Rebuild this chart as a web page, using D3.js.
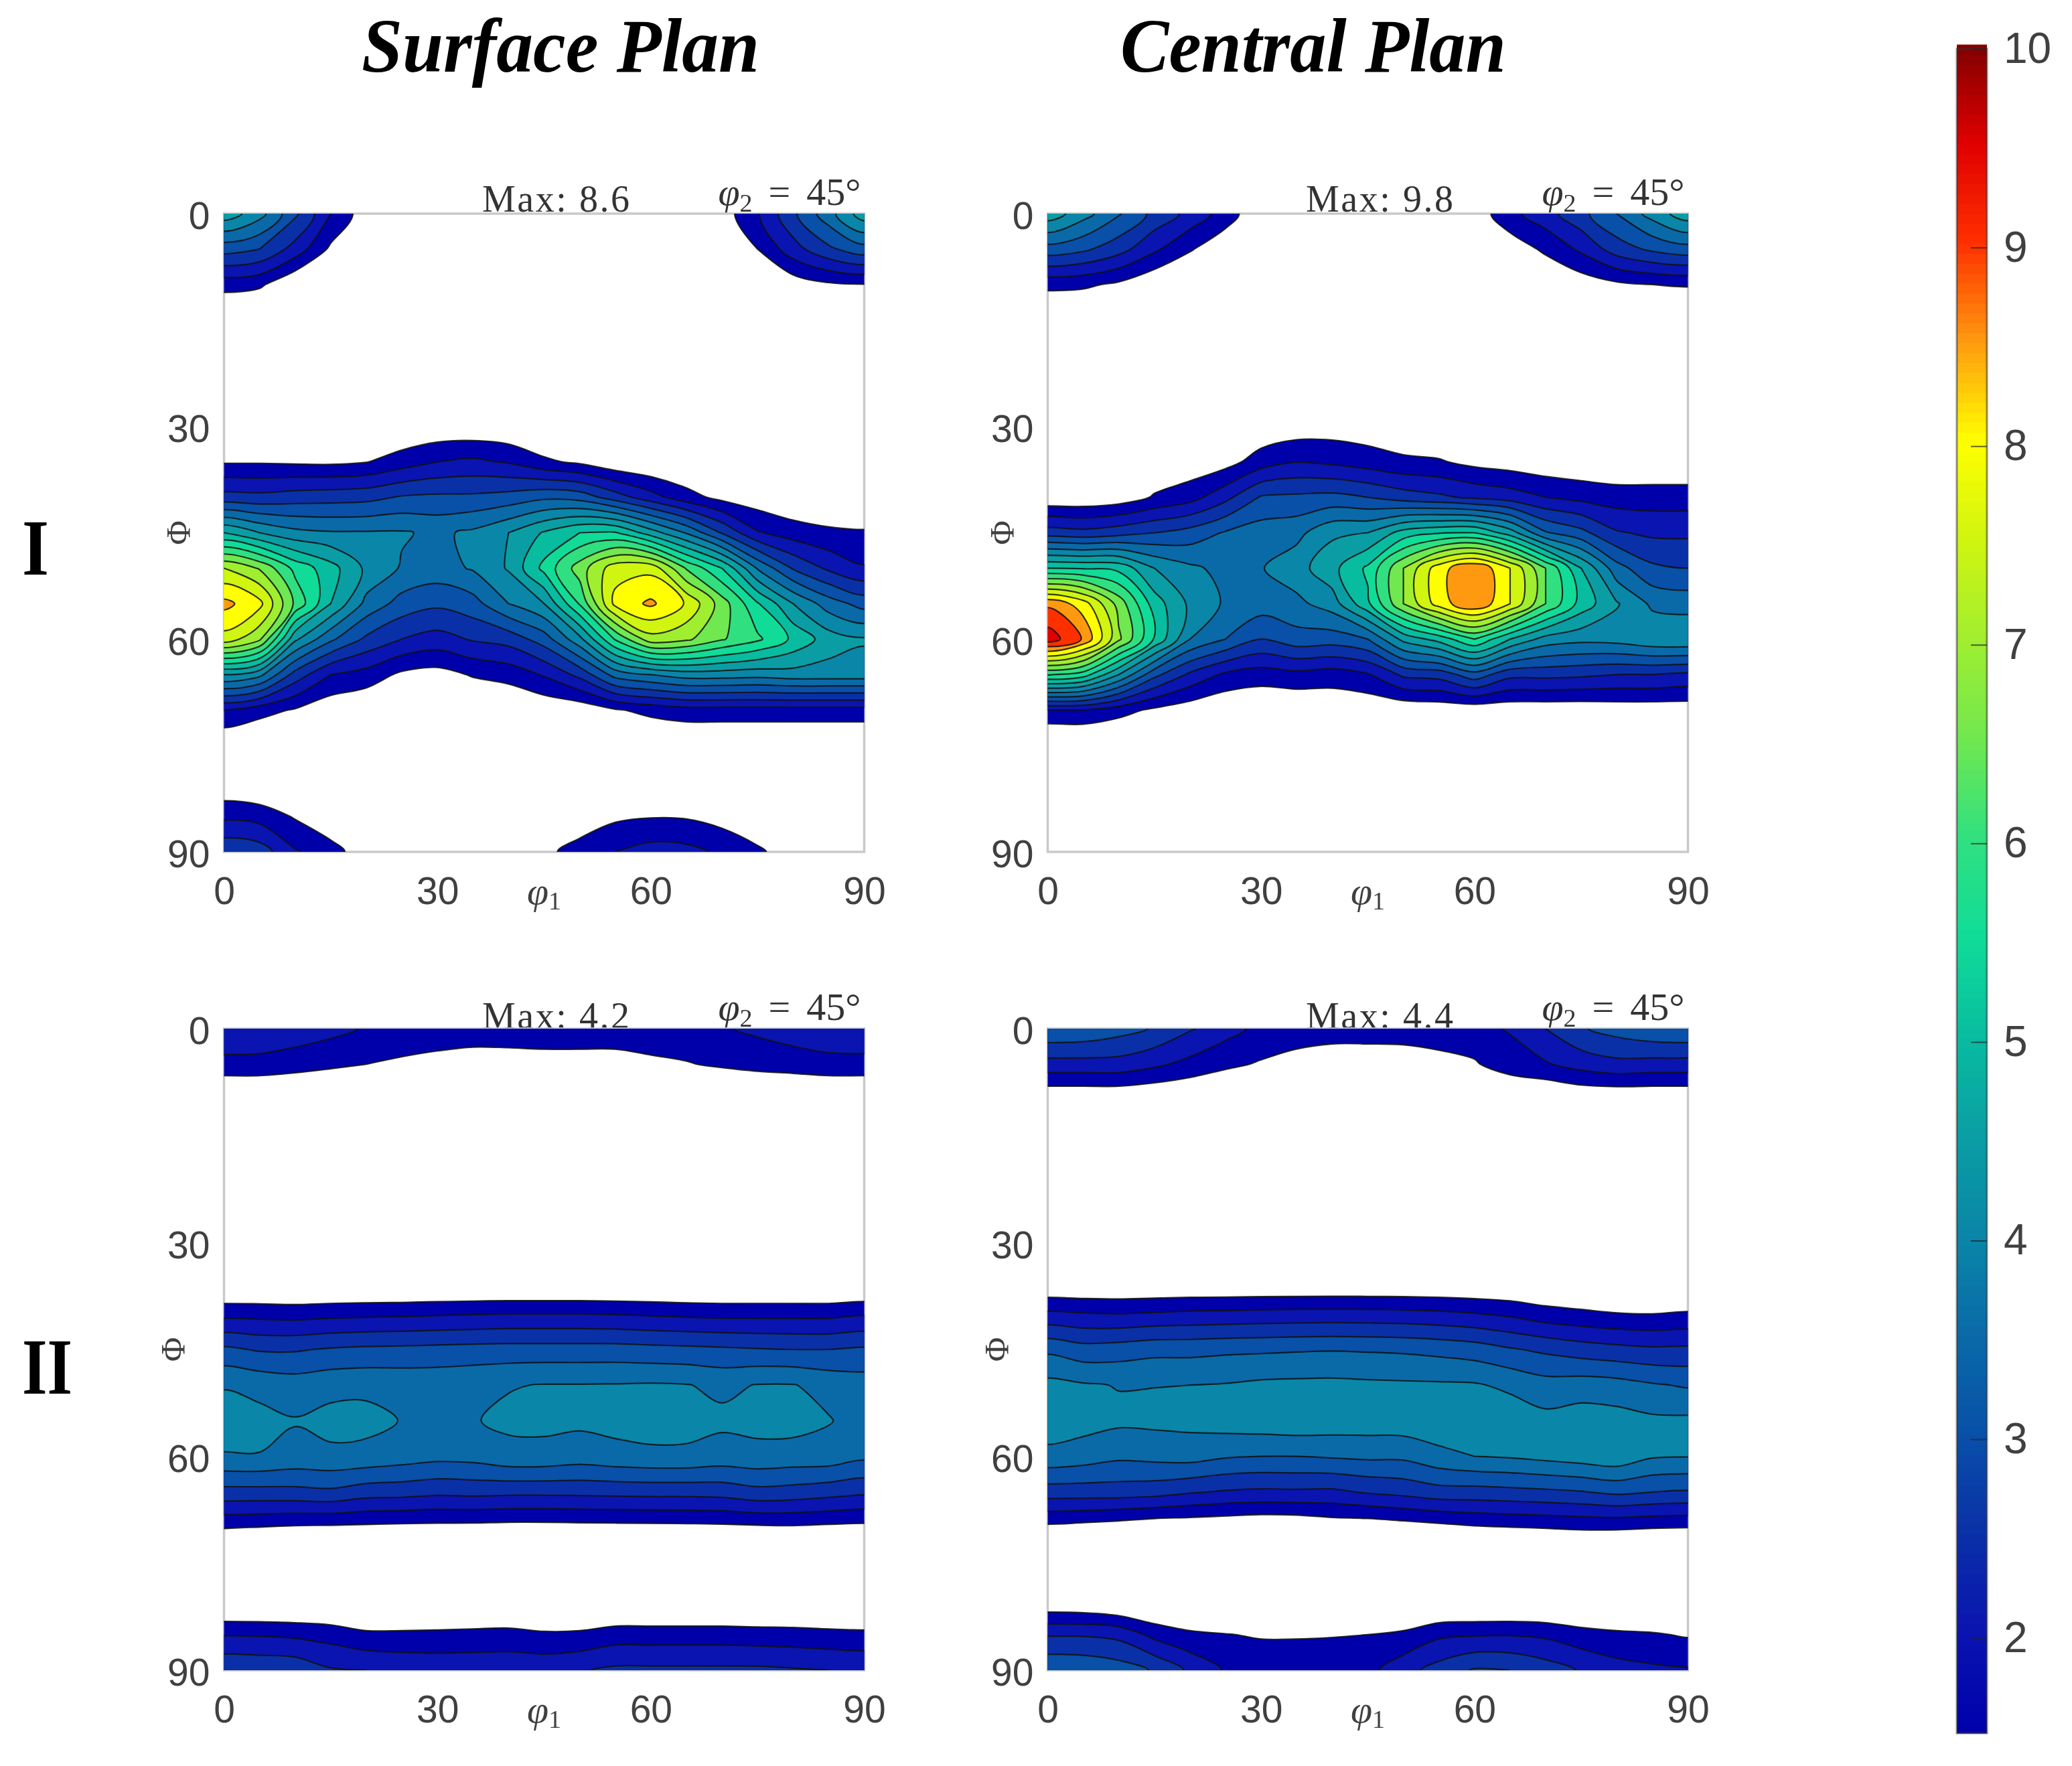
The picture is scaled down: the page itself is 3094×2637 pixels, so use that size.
<!DOCTYPE html>
<html>
<head>
<meta charset="utf-8">
<script src="https://cdn.jsdelivr.net/npm/d3@7"></script>
<style>
  body { margin: 0; background: #fff; }
  svg { display: block; filter: blur(0.7px); }
</style>
</head>
<body>
<div id="chart"></div>
<script>
// odf values, one row per Phi (0..90 step 5), one column per phi1 (0..90 step 5)
const surfacePlanI = [
  [4.8,4.2,3.1,2.0,1.2,.8,.6,.5,.5,.5,.5,.5,.5,.6,1.25,1.95,2.9,3.8,4.8],
  [3.2,3.0,2.3,1.4,.9,.6,.5,.5,.5,.5,.5,.5,.5,.5,.9,1.5,2.3,2.9,3.3],
  [1.7,1.6,1.0,.8,.6,.5,.5,.5,.5,.5,.5,.5,.5,.5,.6,.9,1.2,1.42,1.48],
  [.8,.7,.6,.6,.5,.5,.5,.5,.5,.5,.5,.5,.5,.5,.5,.6,.7,.8,.8],
  [.5,.5,.5,.5,.5,.5,.5,.5,.5,.5,.5,.5,.5,.5,.5,.5,.5,.5,.5],
  [.6,.6,.6,.6,.6,.6,.6,.6,.6,.6,.6,.6,.6,.6,.6,.6,.6,.6,.6],
  [1.0,1.0,1.0,1.0,1.0,1.0,1.1,1.1,1.05,.9,.9,.9,.9,.9,.9,.8,.8,.8,.8],
  [1.45,1.45,1.42,1.4,1.48,1.75,2.0,2.1,1.95,1.6,1.4,1.1,1.0,.95,.9,.9,.9,.9,.9],
  [2.7,2.65,2.75,2.8,2.85,3.05,3.1,3.1,3.2,3.4,3.3,2.75,2.2,1.7,1.35,1.2,1.05,1.0,1.0],
  [5.0,4.5,4.15,4.05,4.05,4.05,3.9,4.1,4.5,5.05,5.5,5.55,4.75,3.95,2.95,2.05,1.75,1.6,1.55],
  [7.5,6.95,5.85,5.2,4.4,3.95,3.8,4.05,4.55,5.65,6.75,7.8,7.85,6.45,5.5,3.95,2.95,2.4,2.05],
  [8.65,8.15,6.4,5.0,3.85,3.3,3.1,3.3,4.0,4.5,6.05,8.15,8.6,7.95,6.75,5.55,4.5,3.75,3.3],
  [7.8,7.1,4.6,3.6,2.9,2.5,2.3,2.55,2.7,3.25,4.35,6.05,7.3,7.1,6.55,6.1,5.4,4.75,4.55],
  [4.5,4.15,2.8,2.0,1.8,1.4,1.3,1.55,1.7,2.05,2.65,3.7,4.0,4.25,4.25,4.2,4.3,4.3,4.3],
  [2.0,1.7,1.45,1.15,1.0,.9,.9,.9,.95,1.1,1.15,1.45,1.65,1.8,1.8,1.8,1.8,1.8,1.8],
  [1.0,.9,.9,.9,.9,.9,.9,.9,.9,.9,.9,.9,.9,.9,.9,.9,.9,.9,.9],
  [1.0,.9,.9,.9,.9,.9,.9,.9,.9,.9,.9,.9,.9,.9,.9,.9,.9,.9,.9],
  [1.9,1.8,1.45,1.1,.9,.8,.8,.8,.8,.8,1.1,1.4,1.47,1.45,1.3,1.05,.8,.8,.8],
  [2.9,2.75,2.05,1.7,1.2,1.0,.9,.9,1.0,1.35,1.75,2.0,2.2,2.15,1.9,1.6,1.2,1.0,.9],
];

const centralPlanI = [
  [4.8,4.2,3.55,2.85,2.35,1.75,1.1,.9,.8,.8,.8,.9,1.2,1.85,2.3,2.85,3.5,4.2,4.8],
  [3.3,3.1,2.7,2.1,1.55,1.15,.9,.7,.7,.7,.7,.7,.8,1.2,1.6,2.1,2.75,3.1,3.3],
  [1.65,1.6,1.4,1.05,.9,.8,.7,.7,.7,.7,.7,.7,.7,.85,1.0,1.2,1.4,1.5,1.55],
  [.8,.8,.7,.7,.7,.7,.7,.7,.7,.7,.7,.7,.7,.7,.7,.7,.8,.8,.8],
  [.6,.6,.6,.6,.6,.6,.6,.6,.6,.6,.6,.6,.6,.6,.6,.6,.6,.6,.6],
  [.7,.7,.7,.7,.7,.7,.7,.7,.7,.7,.7,.7,.7,.7,.7,.7,.7,.7,.7],
  [.9,.9,.9,.9,1.0,1.0,1.1,1.2,1.25,1.2,1.1,1.0,.95,.9,.9,.9,.9,.9,.9],
  [.95,.95,1.0,1.1,1.15,1.3,1.75,2.0,1.9,1.75,1.6,1.55,1.35,1.25,1.15,1.1,1.05,1.05,1.05],
  [1.1,1.1,1.2,1.55,1.8,2.35,3.05,3.1,3.15,3.0,2.75,2.6,2.4,2.25,2.0,1.85,1.75,1.75,1.75],
  [2.75,2.65,2.8,3.0,3.2,3.55,3.75,3.85,4.4,4.5,5.2,5.45,5.5,4.75,3.55,3.15,2.55,2.4,2.4],
  [5.5,5.45,5.35,4.5,4.1,3.85,3.97,4.3,4.85,5.6,7.0,8.3,8.95,8.0,6.5,5.0,3.7,3.1,3.0],
  [8.9,8.25,6.8,5.25,4.4,3.93,3.75,3.87,4.25,5.4,7.0,8.25,8.95,8.0,6.5,5.3,4.55,3.9,3.8],
  [9.8,8.95,7.1,5.45,4.0,3.5,3.0,3.3,3.25,3.5,4.65,5.2,6.0,5.0,4.3,4.15,4.2,4.4,4.45],
  [6.05,5.75,4.5,3.15,2.4,1.9,1.75,1.85,1.75,1.95,2.6,2.7,3.3,2.65,2.65,2.6,2.5,2.5,2.4],
  [2.0,2.0,1.7,1.4,1.2,1.05,1.0,1.0,1.1,1.1,1.1,1.15,1.15,1.15,1.15,1.15,1.2,1.2,1.2],
  [.7,.75,.8,.8,.8,.8,.8,.8,.8,.8,.8,.8,.8,.8,.8,.8,.8,.8,.8],
  [.7,.7,.7,.7,.7,.7,.7,.7,.7,.7,.7,.7,.7,.7,.7,.7,.7,.7,.7],
  [.7,.7,.7,.7,.7,.7,.7,.7,.7,.7,.7,.7,.7,.7,.7,.7,.7,.7,.7],
  [.8,.8,.8,.8,.8,.8,.8,.8,.8,.8,.8,.8,.8,.8,.8,.8,.8,.8,.8],
];

const surfacePlanII = [
  [2.45,2.4,2.3,2.15,1.95,1.8,1.7,1.65,1.65,1.65,1.65,1.65,1.7,1.8,1.95,2.1,2.25,2.35,2.4],
  [1.83,1.83,1.72,1.6,1.5,1.42,1.38,1.36,1.37,1.39,1.39,1.39,1.43,1.47,1.57,1.67,1.74,1.83,1.83],
  [.8,.8,.8,.8,.8,.8,.8,.8,.8,.8,.8,.8,.8,.8,.8,.8,.8,.8,.8],
  [.7,.7,.7,.7,.7,.7,.7,.7,.7,.7,.7,.7,.7,.7,.7,.7,.7,.7,.7],
  [.6,.6,.6,.6,.6,.6,.6,.6,.6,.6,.6,.6,.6,.6,.6,.6,.6,.6,.6],
  [.6,.6,.6,.6,.6,.6,.6,.6,.6,.6,.6,.6,.6,.6,.6,.6,.6,.6,.6],
  [.6,.6,.6,.6,.6,.6,.6,.6,.6,.6,.6,.6,.6,.6,.6,.6,.6,.6,.6],
  [.65,.65,.65,.65,.65,.65,.65,.65,.65,.65,.65,.65,.65,.65,.65,.65,.65,.65,.65],
  [1.85,1.83,1.8,1.85,1.88,1.9,1.94,1.97,2.0,2.0,2.0,1.97,1.93,1.88,1.85,1.85,1.85,1.85,1.95],
  [3.1,2.95,2.95,3.05,3.1,3.12,3.15,3.18,3.2,3.2,3.2,3.2,3.15,3.12,3.08,3.03,3.0,3.0,3.07],
  [3.97,3.85,3.75,3.85,3.88,3.85,3.85,3.9,3.97,4.02,4.02,4.03,4.05,4.02,3.9,4.02,4.02,3.85,3.75],
  [4.2,4.15,4.03,4.15,4.15,3.98,3.9,3.97,4.1,4.12,4.1,4.15,4.2,4.18,4.1,4.15,4.18,4.03,3.8],
  [3.97,3.98,3.85,3.9,3.85,3.75,3.65,3.68,3.85,3.85,3.75,3.85,3.9,3.9,3.8,3.85,3.8,3.8,3.6],
  [2.83,2.83,2.85,2.9,2.73,2.7,2.62,2.65,2.62,2.62,2.63,2.65,2.67,2.67,2.7,2.85,2.8,2.7,2.6],
  [1.52,1.48,1.42,1.4,1.38,1.35,1.34,1.33,1.3,1.3,1.32,1.33,1.34,1.35,1.37,1.4,1.42,1.38,1.35],
  [.7,.7,.7,.7,.7,.7,.7,.7,.7,.7,.7,.7,.7,.7,.7,.7,.7,.7,.7],
  [.7,.7,.7,.7,.7,.7,.7,.7,.7,.7,.7,.7,.7,.7,.7,.7,.7,.7,.7],
  [1.97,1.95,1.9,1.8,1.6,1.6,1.62,1.65,1.68,1.58,1.6,1.75,1.75,1.75,1.75,1.72,1.7,1.65,1.62],
  [2.95,2.9,2.85,2.55,2.5,2.4,2.35,2.35,2.35,2.35,2.45,2.6,2.6,2.6,2.6,2.6,2.55,2.5,2.45],
];

const centralPlanII = [
  [3.45,3.4,3.2,2.95,2.55,2.2,1.85,1.7,1.65,1.65,1.65,1.7,1.8,2.05,2.5,2.95,3.2,3.4,3.45],
  [2.3,2.3,2.3,2.1,1.85,1.6,1.45,1.35,1.3,1.3,1.32,1.37,1.45,1.75,1.95,2.2,2.35,2.3,2.3],
  [1.0,1.0,1.0,.95,.9,.9,.8,.8,.8,.8,.8,.8,.8,.9,.9,1.0,1.0,1.0,1.0],
  [.7,.7,.7,.7,.7,.7,.7,.7,.7,.7,.7,.7,.7,.7,.7,.7,.7,.7,.7],
  [.6,.6,.6,.6,.6,.6,.6,.6,.6,.6,.6,.6,.6,.6,.6,.6,.6,.6,.6],
  [.6,.6,.6,.6,.6,.6,.6,.6,.6,.6,.6,.6,.6,.6,.6,.6,.6,.6,.6],
  [.6,.6,.6,.6,.6,.6,.6,.6,.6,.6,.6,.6,.6,.6,.6,.6,.6,.6,.6],
  [.8,.8,.8,.8,.8,.8,.8,.8,.8,.8,.8,.8,.8,.8,.8,.8,.8,.8,.8],
  [2.1,2.03,2.0,2.05,2.1,2.12,2.15,2.17,2.18,2.17,2.15,2.1,2.02,1.9,1.7,1.6,1.52,1.5,1.55],
  [3.4,3.2,3.25,3.35,3.35,3.4,3.42,3.45,3.47,3.45,3.42,3.35,3.25,3.05,2.9,2.75,2.65,2.58,2.6],
  [4.15,4.05,3.98,3.99,4.0,4.03,4.1,4.12,4.13,4.1,4.08,4.07,4.05,3.9,3.7,3.75,3.7,3.55,3.45],
  [4.3,4.2,4.1,4.12,4.15,4.25,4.3,4.35,4.3,4.28,4.3,4.35,4.35,4.3,4.15,4.25,4.2,4.1,4.1],
  [3.85,3.75,3.6,3.65,3.7,3.55,3.5,3.5,3.55,3.6,3.6,3.85,4.0,4.05,4.15,4.25,4.35,4.05,4.02],
  [2.75,2.75,2.75,2.7,2.55,2.45,2.4,2.42,2.4,2.55,2.65,2.8,2.8,2.85,2.9,2.97,3.1,3.0,2.95],
  [1.37,1.3,1.21,1.09,1.08,1.04,.98,1.0,1.14,1.14,1.23,1.32,1.43,1.48,1.52,1.56,1.56,1.52,1.5],
  [.6,.6,.6,.6,.6,.6,.6,.6,.6,.6,.6,.6,.6,.6,.6,.6,.6,.6,.6],
  [.95,.9,.75,.7,.7,.7,.7,.7,.7,.7,.7,.7,.7,.7,.7,.7,.7,.7,.7],
  [2.45,2.45,2.35,1.85,1.6,1.52,1.45,1.45,1.47,1.5,1.6,1.9,1.95,1.97,1.9,1.7,1.6,1.55,1.45],
  [3.45,3.4,3.25,2.95,2.4,1.95,1.85,1.85,1.85,1.85,2.3,2.7,3.05,3.0,2.75,2.45,2.2,2.1,2.05],
];

const GRID_STEP = 5;
const GRID_PAD = 2; // cells mirrored past each edge, so rings cross the frame without a corner
const levels = [1.5,2,2.5,3,3.5,4,4.5,5,5.5,6,6.5,7,7.5,8,8.5,9,9.5,10];
const levelColors = ["#0000ab","#0a14b0","#0a30a8","#0850a8","#0a6aa8","#0a86a8","#0a9ea4","#08bca0",
  "#10dc98","#30e080","#70e850","#a0ee30","#d0f510","#ffff00","#ff9a10","#ff3000","#e00000","#800000"];
const angleTicks = [0,30,60,90];
const colorbarTicks = [2,3,4,5,6,7,8,9,10];

const columnTitles = ["Surface Plan", "Central Plan"];
const rowTitles = ["I", "II"];
const maxLabels = [["8.6","9.8"],["4.2","4.4"]];
const panelValues = [[surfacePlanI, centralPlanI],[surfacePlanII, centralPlanII]];

var width = 3094, height = 2637;
var panelW = 956, panelH = [953, 958];
var panelLeft = [334.5, 1564.5], panelTop = [319, 1536];
var TICK_FONT = "'Liberation Sans', Arial, sans-serif";
var MATH_FONT = "'Liberation Serif', 'Times New Roman', serif";

var color = d3.scaleLinear().domain(levels).range(levelColors).clamp(true);

var svg = d3.select("#chart").append("svg")
  .attr("width", width)
  .attr("height", height)
  .attr("viewBox", "0 0 " + width + " " + height);

function mirrorIndex(i, n) {
  if (i < 0) return -i;
  if (i >= n) return 2 * (n - 1) - i;
  return i;
}

function paddedGrid(values) {
  var rows = values.length, cols = values[0].length;
  var out = [];
  for (var j = -GRID_PAD; j < rows + GRID_PAD; j++) {
    for (var i = -GRID_PAD; i < cols + GRID_PAD; i++) {
      out.push(values[mirrorIndex(j, rows)][mirrorIndex(i, cols)]);
    }
  }
  return out;
}

function drawPanel(row, col) {
  var left = panelLeft[col], top = panelTop[row], h = panelH[row];
  var values = panelValues[row][col];
  var x = d3.scaleLinear().domain([0, 90]).range([0, panelW]);
  var y = d3.scaleLinear().domain([0, 90]).range([0, h]);
  var g = svg.append("g").attr("transform", "translate(" + left + "," + top + ")");

  // header texts go under the contours, the second row gets cut by the top band
  var maxBase = row === 0 ? -3 : 0;
  g.append("text")
    .attr("x", 385.5).attr("y", maxBase)
    .attr("textLength", 220).attr("lengthAdjust", "spacing")
    .attr("font-family", MATH_FONT).attr("font-size", 56).attr("fill", "#333")
    .text("Max: " + maxLabels[row][col]);

  var angle = g.append("text")
    .attr("x", panelW - 218).attr("y", -13)
    .attr("font-family", MATH_FONT).attr("font-size", 58).attr("fill", "#333");
  angle.append("tspan").attr("font-style", "italic").text("\u03c6");
  angle.append("tspan").attr("font-size", 38).attr("dy", 10).text("2");
  angle.append("tspan").attr("dy", -10).attr("dx", 24).text("=");
  angle.append("tspan").attr("dx", 24).text("45\u00b0");

  g.append("rect")
    .attr("width", panelW).attr("height", h)
    .attr("fill", "none").attr("stroke", "#c9c9c9").attr("stroke-width", 3.5);

  var contours = d3.contours()
    .size([values[0].length + 2 * GRID_PAD, values.length + 2 * GRID_PAD])
    .thresholds(levels)
    .smooth(true)(paddedGrid(values));

  // d3.contours puts grid point i at i + 0.5, rounded through the ring vertices
  var ring = d3.line()
    .x(function (p) { return x((p[0] - 0.5 - GRID_PAD) * GRID_STEP); })
    .y(function (p) { return y((p[1] - 0.5 - GRID_PAD) * GRID_STEP); })
    .curve(d3.curveCatmullRomClosed.alpha(0.5));
  function contourPath(d) {
    return d.coordinates.map(function (polygon) {
      return polygon.map(function (pts) { return ring(pts.slice(0, -1)); }).join("");
    }).join("");
  }

  var clipId = "clip-" + row + "-" + col;
  g.append("clipPath").attr("id", clipId).append("rect")
    .attr("width", panelW).attr("height", h);

  g.append("g").attr("clip-path", "url(#" + clipId + ")")
    .selectAll("path")
    .data(contours.filter(function (d) { return d.coordinates.length > 0; }))
    .join("path")
    .attr("d", contourPath)
    .attr("fill-rule", "evenodd")
    .attr("fill", function (d) { return color(d.value); })
    .attr("stroke", "#101010")
    .attr("stroke-width", 2.2)
    .attr("stroke-opacity", 0.85)
    .attr("stroke-linejoin", "round");

  var xAxis = g.append("g")
    .attr("transform", "translate(0," + h + ")")
    .call(d3.axisBottom(x).tickValues(angleTicks).tickSize(0).tickPadding(38));
  var yAxis = g.append("g")
    .call(d3.axisLeft(y).tickValues(angleTicks).tickSize(0).tickPadding(21));
  [xAxis, yAxis].forEach(function (axis) {
    axis.select(".domain").remove();
    axis.selectAll("text")
      .attr("font-family", TICK_FONT).attr("font-size", 57).attr("fill", "#404040");
  });
  yAxis.selectAll("text").attr("dy", "0.4em");

  var xLabel = g.append("text")
    .attr("x", x(45)).attr("y", h + 78)
    .attr("text-anchor", "middle")
    .attr("font-family", MATH_FONT).attr("font-size", 58).attr("fill", "#404040");
  xLabel.append("tspan").attr("font-style", "italic").text("\u03c6");
  xLabel.append("tspan").attr("font-size", 38).attr("dy", 8).text("1");

  var phiX = row === 0 ? -52 : -60;
  g.append("text")
    .attr("transform", "translate(" + phiX + "," + y(45) + ") rotate(-90)")
    .attr("text-anchor", "middle")
    .attr("font-family", MATH_FONT).attr("font-size", 50).attr("fill", "#404040")
    .text("\u03a6");
}

function drawColorbar() {
  var barLeft = 2922, barWidth = 45, barTop = 73, barBottom = 2588;
  var min = 1.52, max = 10;
  var y = d3.scaleLinear().domain([min, max]).range([barBottom, barTop]);
  var g = svg.append("g");
  var step = 0.05;

  g.selectAll("rect.step")
    .data(d3.range(min, max, step))
    .join("rect")
    .attr("class", "step")
    .attr("x", barLeft)
    .attr("width", barWidth)
    .attr("y", function (d) { return y(d + step) - 0.5; })
    .attr("height", function (d) { return y(d) - y(d + step) + 1; })
    .attr("fill", function (d) { return color(d); });

  g.append("rect")
    .attr("x", barLeft).attr("y", barTop)
    .attr("width", barWidth).attr("height", barBottom - barTop)
    .attr("fill", "none").attr("stroke", "#333").attr("stroke-opacity", 0.55).attr("stroke-width", 3);

  var axis = g.append("g")
    .attr("transform", "translate(" + (barLeft + barWidth) + ",0)")
    .call(d3.axisRight(y).tickValues(colorbarTicks).tickSize(-24).tickPadding(25));
  axis.select(".domain").remove();
  axis.selectAll("line").attr("stroke", "#222").attr("stroke-width", 2).attr("stroke-opacity", 0.7);
  axis.selectAll("text")
    .attr("font-family", TICK_FONT).attr("font-size", 64).attr("fill", "#404040");
}

for (var r = 0; r < 2; r++) {
  for (var c = 0; c < 2; c++) {
    drawPanel(r, c);
  }
}
drawColorbar();

var titleX = [540, 1673], titleLen = [594, 576];
columnTitles.forEach(function (t, i) {
  svg.append("text")
    .attr("x", titleX[i]).attr("y", 107)
    .attr("textLength", titleLen[i]).attr("lengthAdjust", "spacingAndGlyphs")
    .attr("font-family", MATH_FONT).attr("font-size", 114)
    .attr("font-weight", "bold").attr("font-style", "italic")
    .text(t);
});

var rowBase = [858, 2081], rowLen = [40, 75];
rowTitles.forEach(function (t, i) {
  svg.append("text")
    .attr("x", 33).attr("y", rowBase[i])
    .attr("textLength", rowLen[i]).attr("lengthAdjust", "spacingAndGlyphs")
    .attr("font-family", MATH_FONT).attr("font-size", 118).attr("font-weight", "bold")
    .text(t);
});
</script>
</body>
</html>
